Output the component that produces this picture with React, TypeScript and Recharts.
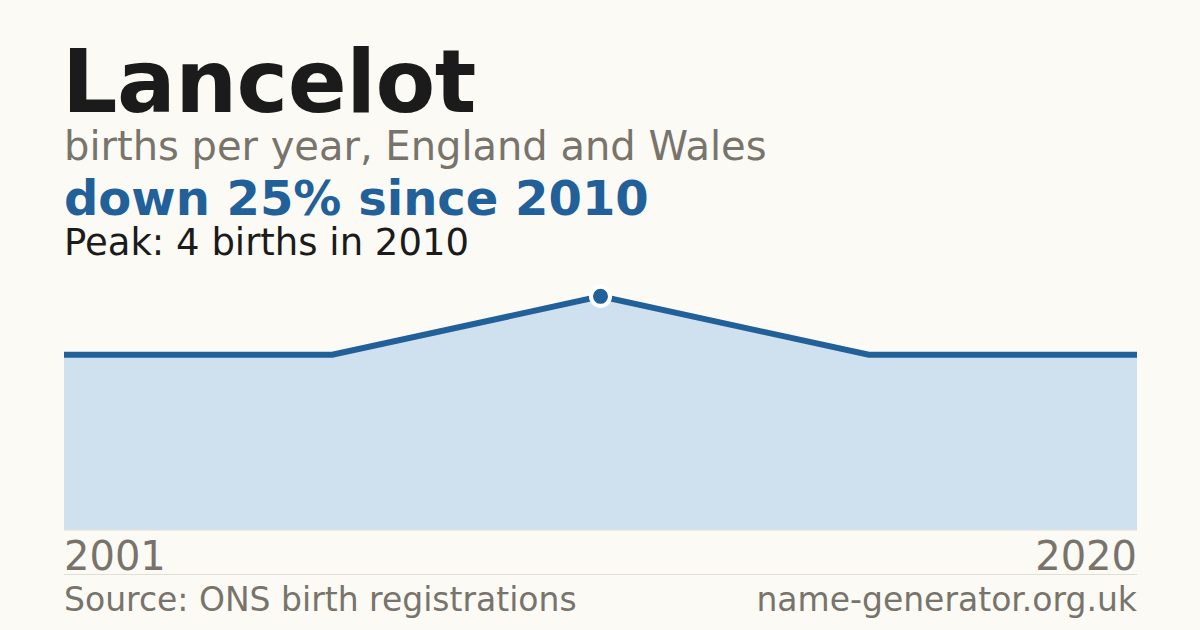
import { AreaChart, Area, XAxis, YAxis } from 'recharts';

const years = ['2001', '2005', '2010', '2015', '2020'];
const births = [3, 3, 4, 3, 3];
const tickYears = ['2001', '2020'];
const peakYear = '2010';

const data = years.map((year, i) => ({ year, births: births[i] }));

const FONT = '"DejaVu Sans", sans-serif';
const GREY = '#78746c';
const BLUE = '#22609a';

function YearTick(props: any) {
  const { x, y, payload, index } = props;
  const first = index === 0;
  return (
    <text
      x={x}
      y={y}
      dy={40}
      textAnchor={first ? 'start' : 'end'}
      fill={GREY}
      fontSize={40}
      fontFamily={FONT}
    >
      {payload.value}
    </text>
  );
}

function PeakDot(props: any) {
  const { cx, cy, payload } = props;
  if (payload.year !== peakYear) return <g key={payload.year} />;
  return <circle key={payload.year} cx={cx} cy={cy} r={9.5} fill={BLUE} stroke="#ffffff" strokeWidth={4} />;
}

export default function App() {
  return (
    <div
      style={{
        position: 'absolute',
        left: 0,
        top: 0,
        width: 1200,
        height: 630,
        background: '#fbfaf5',
        fontFamily: FONT,
        overflow: 'hidden',
      }}
    >
      <div style={{ position: 'absolute', left: 62, top: 39, fontSize: 87, fontWeight: 700, color: '#1b1b1b', lineHeight: 1, letterSpacing: -0.5 }}>
        Lancelot
      </div>
      <div style={{ position: 'absolute', left: 64, top: 126, fontSize: 40, color: GREY, lineHeight: 1 }}>
        births per year, England and Wales
      </div>
      <div style={{ position: 'absolute', left: 64, top: 174, fontSize: 48, fontWeight: 700, color: BLUE, lineHeight: 1 }}>
        down 25% since 2010
      </div>
      <div style={{ position: 'absolute', left: 64, top: 224, fontSize: 37, color: '#1b1b1b', lineHeight: 1 }}>
        Peak: 4 births in 2010
      </div>

      <div style={{ position: 'absolute', left: 64, top: 280 }}>
        <AreaChart width={1073} height={300} data={data} margin={{ top: 0, right: 0, left: 0, bottom: 0 }}>
          <XAxis
            dataKey="year"
            ticks={tickYears}
            interval={0}
            height={50}
            tickLine={false}
            tickSize={0}
            tickMargin={0}
            axisLine={{ stroke: '#e3ded4', strokeWidth: 1 }}
            tick={<YearTick />}
          />
          <YAxis hide domain={[0, 4.28]} />
          <Area
            type="linear"
            dataKey="births"
            stroke={BLUE}
            strokeWidth={6}
            fill="#cfe0ef"
            fillOpacity={1}
            dot={<PeakDot />}
            activeDot={false}
            isAnimationActive={false}
          />
        </AreaChart>
      </div>

      <div style={{ position: 'absolute', left: 64, top: 574, width: 1073, borderTop: '1px solid #e3ded4' }} />
      <div style={{ position: 'absolute', left: 64, top: 583, fontSize: 33, color: GREY, lineHeight: 1 }}>
        Source: ONS birth registrations
      </div>
      <div style={{ position: 'absolute', right: 63, top: 583, fontSize: 33, color: GREY, lineHeight: 1, textAlign: 'right' }}>
        name-generator.org.uk
      </div>
    </div>
  );
}
